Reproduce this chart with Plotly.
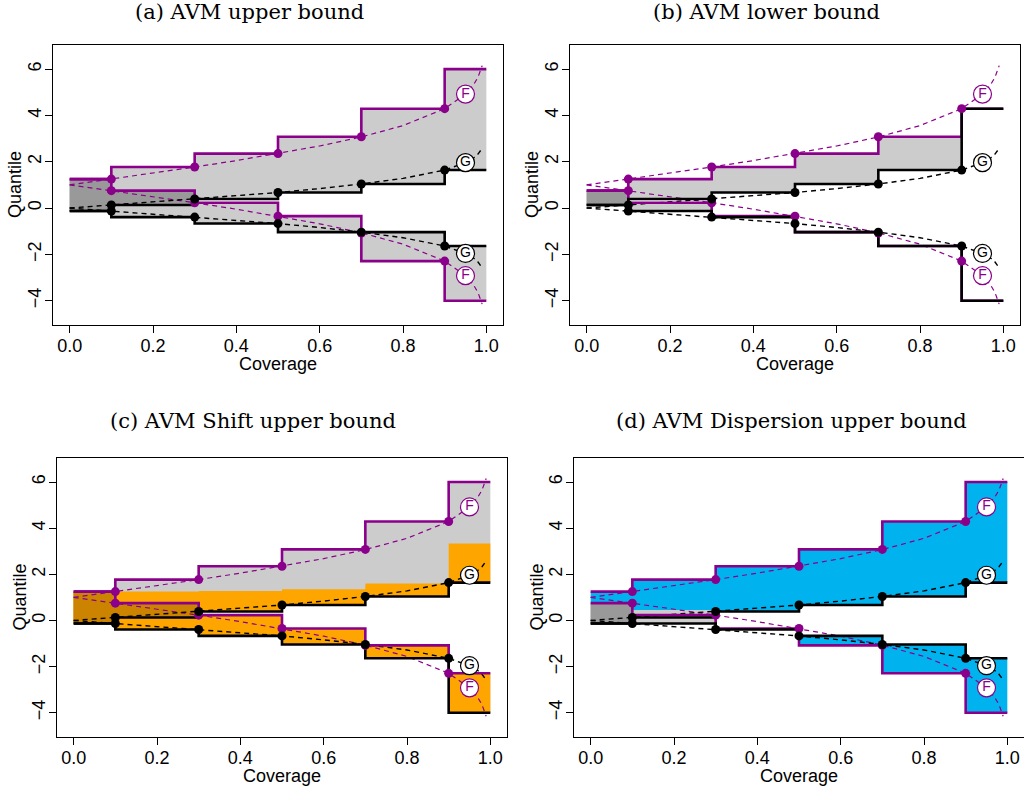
import plotly.graph_objects as go

# ---------------- data ----------------
edges = [0.0, 0.1, 0.3, 0.5, 0.7, 0.9, 1.0]
cov_levels = [0.1, 0.3, 0.5, 0.7, 0.9]

# continuous quantile curves
curve_x = [0.0, 0.1, 0.2, 0.3, 0.4, 0.5, 0.6, 0.7, 0.8, 0.9, 0.95, 0.97, 0.98, 0.99]
G_up_curve = [0.0, 0.13, 0.25, 0.39, 0.52, 0.67, 0.84, 1.04, 1.28, 1.64, 1.96, 2.17, 2.33, 2.58]
G_lo_curve = [0.0, -0.13, -0.25, -0.39, -0.52, -0.67, -0.84, -1.04, -1.28, -1.64, -1.96, -2.17, -2.33, -2.58]
F_up_curve = [1.0, 1.25, 1.51, 1.77, 2.05, 2.35, 2.68, 3.07, 3.56, 4.29, 4.92, 5.34, 5.65, 6.15]
F_lo_curve = [1.0, 0.75, 0.49, 0.23, -0.05, -0.35, -0.68, -1.07, -1.56, -2.29, -2.92, -3.34, -3.65, -4.15]

# quantile points at coverage levels
G_up_pts = [0.13, 0.39, 0.67, 1.04, 1.64]
G_lo_pts = [-0.13, -0.39, -0.67, -1.04, -1.64]
F_up_pts = [1.25, 1.77, 2.35, 3.08, 4.29]
F_lo_pts = [0.75, 0.23, -0.35, -1.08, -2.29]

# circle labels
label_x = 0.95
G_up_label_y = 1.96
G_lo_label_y = -1.96
F_up_label_y = 4.92
F_lo_label_y = -2.92

titles = ["(a) AVM upper bound", "(b) AVM lower bound",
          "(c) AVM Shift upper bound", "(d) AVM Dispersion upper bound"]

# ---- panel (a) steps / regions (one value per interval of `edges`)
a_purple_up = [1.25, 1.77, 2.35, 3.08, 4.29, 6.0]
a_purple_lo = [1.25, 0.75, 0.23, -0.35, -2.29, -4.0]
a_black_up = [-0.13, 0.13, 0.39, 0.67, 1.04, 1.64]
a_black_lo = [-0.13, -0.39, -0.67, -1.04, -1.04, -1.64]
a_grey_up_lo = [-0.13, 0.13, 0.39, 0.67, 1.04, 1.64]
a_grey_up_hi = [1.25, 1.77, 2.35, 3.08, 4.29, 6.0]
a_grey_lo_lo = [-0.13, -0.39, -0.67, -1.04, -2.29, -4.0]
a_grey_lo_hi = [1.25, 0.75, 0.23, -0.35, -1.04, -1.64]

# ---- panel (b)
b_purple_up = [0.75, 1.25, 1.77, 2.35, 3.08, 4.29]
b_purple_lo = [0.75, 0.23, -0.35, -1.04, -1.64, -4.0]
b_black_up = [0.13, 0.39, 0.67, 1.04, 1.64, 4.29]
b_black_lo = [0.13, -0.13, -0.39, -1.04, -1.64, -4.0]
b_grey_up_lo = [0.13, 0.39, 0.67, 1.04, 1.64, 4.29]
b_grey_up_hi = [0.75, 1.25, 1.77, 2.35, 3.08, 4.29]
b_grey_lo_lo = [0.13, -0.13, -0.39, -1.04, -1.64, -4.0]
b_grey_lo_hi = [0.75, 0.23, -0.35, -1.04, -1.64, -4.0]

# ---- panel (c)
c_purple_up = [1.25, 1.77, 2.35, 3.08, 4.29, 6.0]
c_purple_lo = [1.25, 0.75, 0.23, -0.35, -1.08, -2.29]
c_black_up = [-0.13, 0.13, 0.39, 0.67, 1.04, 1.64]
c_black_lo = [-0.13, -0.39, -0.67, -1.04, -1.64, -4.0]
c_grey_up_lo = [-0.13, 0.13, 0.39, 0.67, 1.04, 1.64]
c_grey_up_hi = [1.25, 1.77, 2.35, 3.08, 4.29, 6.0]
c_orange_up_lo = [-0.13, 0.13, 0.39, 0.67, 1.04, 1.64]
c_orange_up_hi = [1.25, 1.25, 1.28, 1.35, 1.60, 3.33]
c_orange_lo_lo = [-0.13, -0.39, -0.67, -1.04, -1.64, -4.0]
c_orange_lo_hi = [1.25, 0.75, 0.23, -0.35, -1.08, -2.29]

# ---- panel (d)
d_purple_up = [1.25, 1.77, 2.35, 3.08, 4.29, 6.0]
d_purple_lo = [0.75, 0.23, -0.35, -1.08, -2.29, -4.0]
d_black_up = [-0.13, 0.13, 0.39, 0.67, 1.04, 1.64]
d_black_lo = [-0.13, -0.13, -0.39, -0.67, -1.04, -1.64]
d_grey_up_lo = [-0.13, 0.13, 0.39, 0.67, 1.04, 1.64]
d_grey_up_hi = [0.75, 0.45, 0.39, 0.67, 1.04, 1.64]
d_grey_lo_lo = [-0.13, -0.13, -0.39, -0.67, -1.04, -1.64]
d_grey_lo_hi = [0.75, 0.13, -0.39, -0.67, -1.04, -1.64]
d_blue_up_lo = [0.75, 0.45, 0.39, 0.67, 1.04, 1.64]
d_blue_up_hi = [1.25, 1.77, 2.35, 3.08, 4.29, 6.0]
d_blue_lo_lo = [-0.13, -0.13, -0.39, -1.08, -2.29, -4.0]
d_blue_lo_hi = [-0.13, -0.13, -0.39, -0.67, -1.04, -1.64]

# ---------------- styling ----------------
PURPLE = "#8B008B"
BLACK = "#000000"
LIGHT_GREY = "#CCCCCC"
DARK_GREY = "#999999"
ORANGE = "#FFA500"
DARK_ORANGE = "#CC8400"
BLUE = "#00B2EE"
W, H = 1024, 792

# plot boxes in pixels: (left, right, top, bottom)
boxes = [(53, 503, 45, 325), (570, 1020, 45, 325),
         (57, 507, 458, 737), (574, 1024, 458, 737)]
title_pos = [(249, 12), (766, 12), (253, 421), (791, 421)]

fig = go.Figure()


def rect_trace(lo, hi, color, ax):
    xs, ys = [], []
    for i in range(len(edges) - 1):
        if hi[i] - lo[i] <= 1e-9:
            continue
        x0, x1 = edges[i], edges[i + 1]
        xs += [x0, x1, x1, x0, x0, None]
        ys += [lo[i], lo[i], hi[i], hi[i], lo[i], None]
    return go.Scatter(x=xs, y=ys, mode="lines", fill="toself", fillcolor=color,
                      line=dict(width=0, color=color), hoverinfo="skip",
                      showlegend=False, xaxis="x" + ax, yaxis="y" + ax)


def overlap(lo1, hi1, lo2, hi2):
    lo = [max(a, b) for a, b in zip(lo1, lo2)]
    hi = [min(a, b) for a, b in zip(hi1, hi2)]
    return lo, hi


def step_trace(vals, color, ax, width=2.6):
    return go.Scatter(x=edges, y=vals + [vals[-1]], mode="lines", line_shape="hv",
                      line=dict(color=color, width=width), hoverinfo="skip",
                      showlegend=False, xaxis="x" + ax, yaxis="y" + ax)


def common(ax):
    tr = []
    for yv, col, w in [(F_up_curve, PURPLE, 1.2), (F_lo_curve, PURPLE, 1.2),
                       (G_up_curve, BLACK, 1.4), (G_lo_curve, BLACK, 1.4)]:
        tr.append(go.Scatter(x=curve_x, y=yv, mode="lines",
                             line=dict(color=col, width=w, dash="5px,4px"),
                             showlegend=False, hoverinfo="skip",
                             xaxis="x" + ax, yaxis="y" + ax))
    return tr


def points(ax):
    tr = []
    for pts, col in [(F_up_pts, PURPLE), (F_lo_pts, PURPLE),
                     (G_up_pts, BLACK), (G_lo_pts, BLACK)]:
        tr.append(go.Scatter(x=cov_levels, y=pts, mode="markers",
                             marker=dict(color=col, size=9, line=dict(width=0)),
                             showlegend=False, xaxis="x" + ax, yaxis="y" + ax))
    for yv, txt, col in [(F_up_label_y, "F", PURPLE), (F_lo_label_y, "F", PURPLE),
                         (G_up_label_y, "G", BLACK), (G_lo_label_y, "G", BLACK)]:
        tr.append(go.Scatter(x=[label_x], y=[yv], mode="markers+text", text=[txt],
                             textposition="middle center",
                             textfont=dict(family="Liberation Sans", size=14, color=col),
                             marker=dict(color="white", size=18, line=dict(color=col, width=1.2)),
                             showlegend=False, xaxis="x" + ax, yaxis="y" + ax))
    return tr


panels = [
    dict(purple_up=a_purple_up, purple_lo=a_purple_lo, black_up=a_black_up, black_lo=a_black_lo,
         grey=[(a_grey_up_lo, a_grey_up_hi), (a_grey_lo_lo, a_grey_lo_hi)], extra=None),
    dict(purple_up=b_purple_up, purple_lo=b_purple_lo, black_up=b_black_up, black_lo=b_black_lo,
         grey=[(b_grey_up_lo, b_grey_up_hi), (b_grey_lo_lo, b_grey_lo_hi)], extra=None),
    dict(purple_up=c_purple_up, purple_lo=c_purple_lo, black_up=c_black_up, black_lo=c_black_lo,
         grey=[(c_grey_up_lo, c_grey_up_hi), (c_orange_lo_lo, c_orange_lo_hi)],
         extra=("orange", [(c_orange_up_lo, c_orange_up_hi), (c_orange_lo_lo, c_orange_lo_hi)])),
    dict(purple_up=d_purple_up, purple_lo=d_purple_lo, black_up=d_black_up, black_lo=d_black_lo,
         grey=[(d_grey_up_lo, d_grey_up_hi), (d_grey_lo_lo, d_grey_lo_hi)],
         extra=("blue", [(d_blue_up_lo, d_blue_up_hi), (d_blue_lo_lo, d_blue_lo_hi)])),
]

for k, p in enumerate(panels):
    ax = "" if k == 0 else str(k + 1)
    (ul, uh), (ll, lh) = p["grey"]
    fig.add_trace(rect_trace(ul, uh, LIGHT_GREY, ax))
    fig.add_trace(rect_trace(ll, lh, LIGHT_GREY, ax))
    ol, oh = overlap(ul, uh, ll, lh)
    fig.add_trace(rect_trace(ol, oh, DARK_GREY, ax))
    if p["extra"] is not None:
        kind, regs = p["extra"]
        (eul, euh), (ell, elh) = regs
        if kind == "orange":
            fig.add_trace(rect_trace(eul, euh, ORANGE, ax))
            fig.add_trace(rect_trace(ell, elh, ORANGE, ax))
            ol, oh = overlap(eul, euh, ell, elh)
            fig.add_trace(rect_trace(ol, oh, DARK_ORANGE, ax))
        else:
            fig.add_trace(rect_trace(eul, euh, BLUE, ax))
            fig.add_trace(rect_trace(ell, elh, BLUE, ax))
    for t in common(ax):
        fig.add_trace(t)
    fig.add_trace(step_trace(p["purple_up"], PURPLE, ax))
    fig.add_trace(step_trace(p["purple_lo"], PURPLE, ax))
    fig.add_trace(step_trace(p["black_up"], BLACK, ax))
    fig.add_trace(step_trace(p["black_lo"], BLACK, ax))
    for t in points(ax):
        fig.add_trace(t)

layout = dict(width=W, height=H, margin=dict(l=0, r=0, t=0, b=0),
              paper_bgcolor="white", plot_bgcolor="white", showlegend=False,
              font=dict(family="Liberation Sans", size=18, color="black"))
annotations = []
for k, (l, r, t, b) in enumerate(boxes):
    ax = "" if k == 0 else str(k + 1)
    layout["xaxis" + ax] = dict(
        domain=[l / W, r / W], anchor="y" + ax, range=[-0.04, 1.04],
        tickvals=[0, 0.2, 0.4, 0.6, 0.8, 1.0],
        ticktext=["0.0", "0.2", "0.4", "0.6", "0.8", "1.0"],
        ticks="outside", ticklen=7, tickwidth=1, tickcolor="black",
        showline=True, mirror=True, linecolor="black", linewidth=1,
        showgrid=False, zeroline=False, tickfont=dict(size=18),
        ticklabelstandoff=-3)
    layout["yaxis" + ax] = dict(
        domain=[1 - b / H, 1 - t / H], anchor="x" + ax, range=[-5.05, 7.04],
        tickvals=[-4, -2, 0, 2, 4, 6],
        ticktext=["\u22124", "\u22122", "0", "2", "4", "6"],
        ticks="outside", ticklen=7, tickwidth=1, tickcolor="black", tickangle=-90,
        showline=True, mirror=True, linecolor="black", linewidth=1,
        showgrid=False, zeroline=False, tickfont=dict(size=18),
        ticklabelstandoff=-3)
    annotations.append(dict(text="Coverage", x=(l + r) / 2 / W, y=1 - (b + 39) / H,
                            xref="paper", yref="paper", showarrow=False,
                            font=dict(size=18), xanchor="center", yanchor="middle"))
    annotations.append(dict(text="Quantile", x=(l - 38) / W, y=1 - (t + b) / 2 / H,
                            xref="paper", yref="paper", showarrow=False, textangle=-90,
                            font=dict(size=18), xanchor="center", yanchor="middle"))
    tx, ty = title_pos[k]
    annotations.append(dict(text=titles[k], x=tx / W, y=1 - ty / H,
                            xref="paper", yref="paper", showarrow=False,
                            font=dict(family="DejaVu Serif", size=21, color="black"),
                            xanchor="center", yanchor="middle"))
layout["annotations"] = annotations
fig.update_layout(**layout)
fig.write_html("out.html")
